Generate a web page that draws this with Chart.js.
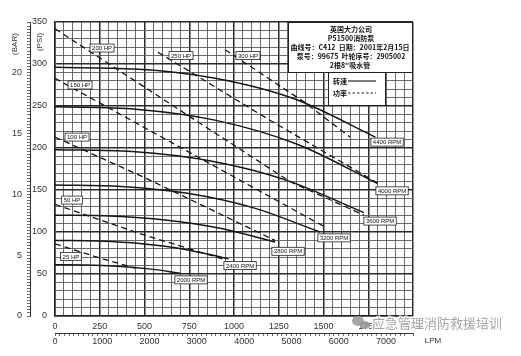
<!DOCTYPE html>
<html><head><meta charset="utf-8">
<script src="https://cdn.jsdelivr.net/npm/chart.js@4.4.0/dist/chart.umd.min.js"></script>
<style>html,body{margin:0;padding:0;background:#fff;}canvas{display:block;}</style>
</head><body>
<canvas id="c" width="521" height="356"></canvas>
<script>
// ---- Speed (RPM) head curves: flow in GPM, pressure in PSI ----
const rpmNames = ['2000 RPM','2400 RPM','2800 RPM','3200 RPM','3600 RPM','4000 RPM','4400 RPM'];
const gpm2000 = [0,175,350,525,700];      const psi2000 = [61,60.7,59.2,56.1,51];
const gpm2400 = [0,243,485,728,970];      const psi2400 = [90,89.3,86.1,79.3,68];
const gpm2800 = [0,308,615,923,1230];     const psi2800 = [120,119,114.3,104.4,88];
const gpm3200 = [0,370,740,1110,1480];    const psi3200 = [156,154.3,146.1,128.7,100];
const gpm3600 = [0,432,863,1295,1726];    const psi3600 = [198,195.7,184.7,161.5,123];
const gpm4000 = [0,450,900,1350,1800];    const psi4000 = [249,246.2,232.9,204.7,158];
const gpm4400 = [0,448,895,1343,1790];    const psi4400 = [296,294,283,258,213];

// ---- Power (HP) curves ----
const hpNames = ['25 HP','50 HP','100 HP','150 HP','200 HP','250 HP','300 HP'];
const gpm25  = [0,220,447];          const psi25  = [86,71,57];
const gpm50  = [0,475,950];          const psi50  = [133,98,67];
const gpm100 = [0,508,1229];         const psi100 = [213,164,90];
const gpm150 = [0,698,1508];         const psi150 = [283,201,106];
const gpm200 = [0,698,1313,1726];    const psi200 = [342,245,160,120];
const gpm250 = [575,1201,1804];      const psi250 = [314,233,158];
const gpm300 = [950,1397,1648];      const psi300 = [317,254,213];

// ---- Axis ticks ----
const gpmTickLabels = [0,250,500,750,1000,1250,1500,1750,2000];
const psiTickLabels = [0,50,100,150,200,250,300,350];
const barTickLabels = [0,5,10,15,20];
const lpmTickLabels = [0,1000,2000,3000,4000,5000,6000,7000];
const GPM_MAX = 2000, PSI_MAX = 350;
const BAR_MAX = PSI_MAX / 14.5038;
const LPM_MAX = GPM_MAX * 3.78541;

// ---- Label anchors (GPM, PSI) ----
const rpmLabelAt = [[760,43],[1034,60],[1302,77],[1559,93],[1816,113],[1883,149],[1855,207]];
const hpLabelAt  = [[89,71],[95,138],[123,213],[140,275],[263,319],[704,310],[1078,310]];

const rpmSeries = [[gpm2000,psi2000],[gpm2400,psi2400],[gpm2800,psi2800],[gpm3200,psi3200],[gpm3600,psi3600],[gpm4000,psi4000],[gpm4400,psi4400]];
const hpSeries  = [[gpm25,psi25],[gpm50,psi50],[gpm100,psi100],[gpm150,psi150],[gpm200,psi200],[gpm250,psi250],[gpm300,psi300]];
const toPts = (xs, ys) => xs.map((x,i)=>({x, y: ys[i]}));

const datasets = [];
rpmSeries.forEach((s,i)=>datasets.push({
  label: rpmNames[i], data: toPts(s[0],s[1]), showLine:true, pointRadius:0,
  borderColor:'#161616', borderWidth:1.5, cubicInterpolationMode:'monotone', tension:0.4
}));
hpSeries.forEach((s,i)=>datasets.push({
  label: hpNames[i], data: toPts(s[0],s[1]), showLine:true, pointRadius:0,
  borderColor:'#161616', borderWidth:1.3, borderDash:[6,4], tension:0
}));

const near = (v, m) => Math.abs(v/m - Math.round(v/m)) < 1e-6;
const tickFont = {family:'"Liberation Sans", Arial, sans-serif', size:9};

const annot = {
  id:'annot',
  afterDatasetsDraw(chart){
    const c = chart.ctx, xs = chart.scales.x, ys = chart.scales.y;
    const box = (text, gx, gy) => {
      const px = xs.getPixelForValue(gx), py = ys.getPixelForValue(gy);
      c.save();
      c.font = '6px "Liberation Sans", Arial, sans-serif';
      const w = c.measureText(text).width + 4, h = 8;
      c.fillStyle = '#fff'; c.fillRect(px-w/2, py-h/2, w, h);
      c.strokeStyle = '#222'; c.lineWidth = 0.8; c.strokeRect(px-w/2, py-h/2, w, h);
      c.fillStyle = '#111'; c.textAlign='center'; c.textBaseline='middle';
      c.fillText(text, px, py+0.5);
      c.restore();
    };
    rpmNames.forEach((n,i)=>box(n, rpmLabelAt[i][0], rpmLabelAt[i][1]));
    hpNames.forEach((n,i)=>box(n, hpLabelAt[i][0], hpLabelAt[i][1]));

    // info box
    c.save();
    c.fillStyle='#fff'; c.strokeStyle='#222'; c.lineWidth=1;
    c.fillRect(288,22,125,50); c.strokeRect(288.5,22.5,124,50);
    c.fillRect(328,72,57,33); c.strokeRect(328.5,72.5,57,33);
    c.fillStyle='#111'; c.textAlign='center'; c.textBaseline='middle';
    c.font='bold 7px "Noto Sans CJK SC", sans-serif';
    c.fillText('英国大力公司', 351, 29);
    c.fillText('P51500消防泵', 351, 38);
    c.fillText('曲线号：C412  日期：2001年2月15日', 350, 47);
    c.fillText('泵号：99675  叶轮序号：2905002', 351, 56);
    c.fillText('2根8″吸水管', 350, 65);
    c.textAlign='left';
    c.fillText('转速', 333, 81);
    c.fillText('功率', 333, 93);
    c.beginPath(); c.lineWidth=1.2; c.moveTo(348,81); c.lineTo(376,81); c.stroke();
    c.setLineDash([2.5,2]); c.beginPath(); c.moveTo(348,93); c.lineTo(376,93); c.stroke();
    c.setLineDash([]);
    c.restore();
  },
  afterDraw(chart){
    const c = chart.ctx;
    c.save();
    c.fillStyle='#333';
    c.font='8px "Liberation Sans", Arial, sans-serif';
    c.textAlign='center'; c.textBaseline='middle';
    c.save(); c.translate(15,44); c.rotate(-Math.PI/2); c.fillText('(BAR)',0,0); c.restore();
    c.save(); c.translate(40,42); c.rotate(-Math.PI/2); c.fillText('(PSI)',0,0); c.restore();
    c.fillText('LPM', 433, 341);
    // watermark
    c.font='13px "Noto Sans CJK SC", sans-serif';
    c.textAlign='left';
    c.lineWidth=3; c.strokeStyle='rgba(255,255,255,0.8)';
    c.strokeText('应急管理消防救援培训', 372, 323);
    c.fillStyle='rgba(150,150,150,0.85)';
    c.fillText('应急管理消防救援培训', 372, 323);
    c.beginPath(); c.ellipse(358,321,6,5,0,0,Math.PI*2); c.fill();
    c.beginPath(); c.ellipse(365,325,5,4,0,0,Math.PI*2); c.fill();
    c.restore();
  }
};

new Chart(document.getElementById('c'), {
  type:'scatter',
  data:{datasets},
  options:{
    responsive:false, animation:false, devicePixelRatio:1,
    layout:{padding:{left:0,right:108,top:22,bottom:5}},
    plugins:{legend:{display:false}, tooltip:{enabled:false}},
    scales:{
      x:{type:'linear', position:'bottom', weight:0, min:0, max:GPM_MAX,
        ticks:{stepSize:50, autoSkip:false, maxRotation:0, padding:5, font:tickFont, color:'#333',
          callback:v=>gpmTickLabels.includes(v)?String(v):''},
        grid:{drawTicks:false, color:ctx=>near(ctx.tick.value,250)?'#2a2a2a':'#5a5a5a',
          lineWidth:ctx=>near(ctx.tick.value,250)?1.5:0.9},
        border:{color:'#222', width:1.5},
        afterFit:s=>{s.height=17;}
      },
      lpm:{type:'linear', position:'bottom', weight:1, min:0, max:LPM_MAX,
        ticks:{stepSize:100, autoSkip:false, maxRotation:0, padding:0, font:tickFont, color:'#333',
          callback:v=>lpmTickLabels.includes(v)?String(v):''},
        grid:{drawOnChartArea:false, drawTicks:true, tickLength:3, color:'#444', lineWidth:0.8},
        border:{color:'#333', width:1},
        afterFit:s=>{s.height=18;}
      },
      y:{type:'linear', position:'left', weight:0, min:0, max:PSI_MAX,
        ticks:{stepSize:10, autoSkip:false, padding:8, font:tickFont, color:'#333',
          callback:v=>psiTickLabels.includes(v)?String(v):''},
        grid:{drawTicks:false, color:ctx=>near(ctx.tick.value,50)?'#2a2a2a':'#5a5a5a',
          lineWidth:ctx=>near(ctx.tick.value,50)?1.5:0.9},
        border:{color:'#222', width:1.5},
        afterFit:s=>{s.width=25;}
      },
      bar:{type:'linear', position:'left', weight:1, min:0, max:BAR_MAX,
        ticks:{stepSize:0.25, autoSkip:false, padding:5, font:tickFont, color:'#333',
          callback:v=>barTickLabels.some(b=>Math.abs(b-v)<1e-6)?String(Math.round(v)):''},
        grid:{drawOnChartArea:false, drawTicks:true, tickLength:3, color:'#444', lineWidth:0.8},
        border:{color:'#333', width:1},
        afterFit:s=>{s.width=30;}
      }
    }
  },
  plugins:[annot]
});
</script>
</body></html>
